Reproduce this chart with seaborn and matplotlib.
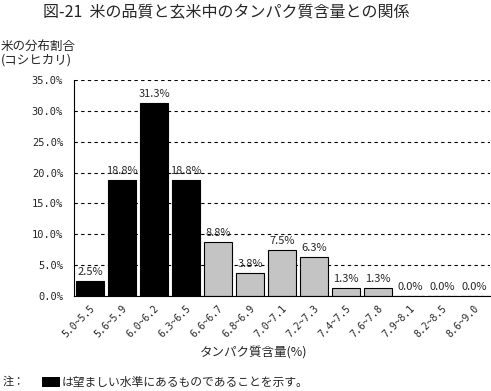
import matplotlib
matplotlib.use("Agg")
import matplotlib.pyplot as plt
from matplotlib.patches import Rectangle
import seaborn as sns
import pandas as pd

# protein content classes (%) and share of rice (Koshihikari)
classes = ["5.0~5.5", "5.6~5.9", "6.0~6.2", "6.3~6.5", "6.6~6.7", "6.8~6.9",
           "7.0~7.1", "7.2~7.3", "7.4~7.5", "7.6~7.8", "7.9~8.1", "8.2~8.5", "8.6~9.0"]
share = [2.5, 18.8, 31.3, 18.8, 8.8, 3.8, 7.5, 6.3, 1.3, 1.3, 0.0, 0.0, 0.0]
desirable = [True, True, True, True, False, False, False, False, False, False, False, False, False]

df = pd.DataFrame({"class": classes, "share": share,
                   "group": ["good" if d else "other" for d in desirable]})

sns.set_style("white")
plt.rcParams['font.family'] = ['Noto Sans CJK JP', 'DejaVu Sans']

fig = plt.figure(figsize=(4.91, 3.91), dpi=100)
ax = fig.add_axes([0.151, 0.243, 0.847, 0.552])

sns.barplot(data=df, x="class", y="share", hue="group", dodge=False,
            palette={"good": "black", "other": "#c4c4c4"}, width=0.88,
            edgecolor="black", linewidth=0.8, legend=False, ax=ax)

ax.set_ylim(0, 35)
ax.set_xlim(-0.5, len(classes) - 0.5)
ax.set_yticks(range(0, 36, 5))
ax.set_yticklabels([f"{v:.1f}%" for v in range(0, 36, 5)], fontsize=7.5,
                   family="DejaVu Sans Mono")
ax.yaxis.grid(True, linestyle=(0, (3, 3)), color="black", linewidth=0.8)
ax.set_axisbelow(True)
ax.tick_params(axis="y", length=0, pad=8)

# category boundary ticks on the x axis
ax.set_xticks([i + 0.5 for i in range(len(classes) - 1)], minor=True)
ax.tick_params(axis="x", which="minor", direction="in", length=4, color="black", width=0.8)
ax.set_xticks(range(len(classes)))
ax.set_xticklabels(classes, rotation=45, ha="right", rotation_mode="anchor",
                   fontsize=7, family="DejaVu Sans Mono")
ax.tick_params(axis="x", which="major", length=0, pad=5)

for s in ["top", "right"]:
    ax.spines[s].set_visible(False)
for s in ["left", "bottom"]:
    ax.spines[s].set_color("black")
    ax.spines[s].set_linewidth(0.8)

for i, v in enumerate(share):
    ax.text(i, v + 0.6, f"{v:.1f}%", ha="center", va="bottom", fontsize=8)

ax.set_xlabel("")
ax.set_ylabel("")

fig.text(0.46, 0.968, "図-21  米の品質と玄米中のタンパク質含量との関係",
         ha="center", va="center", fontsize=11.5)
fig.text(0.002, 0.882, "米の分布割合", ha="left", va="center", fontsize=9)
fig.text(0.002, 0.846, "(コシヒカリ)", ha="left", va="center", fontsize=9)
fig.text(0.517, 0.097, "タンパク質含量(%)", ha="center", va="center", fontsize=9)

fig.text(0.006, 0.023, "注：", ha="left", va="center", fontsize=8)
fig.patches.append(Rectangle((0.086, 0.010), 0.036, 0.026, transform=fig.transFigure,
                             facecolor="black", edgecolor="none"))
fig.text(0.126, 0.023, "は望ましい水準にあるものであることを示す。",
         ha="left", va="center", fontsize=8.5)

fig.savefig("out.png", dpi=100)
